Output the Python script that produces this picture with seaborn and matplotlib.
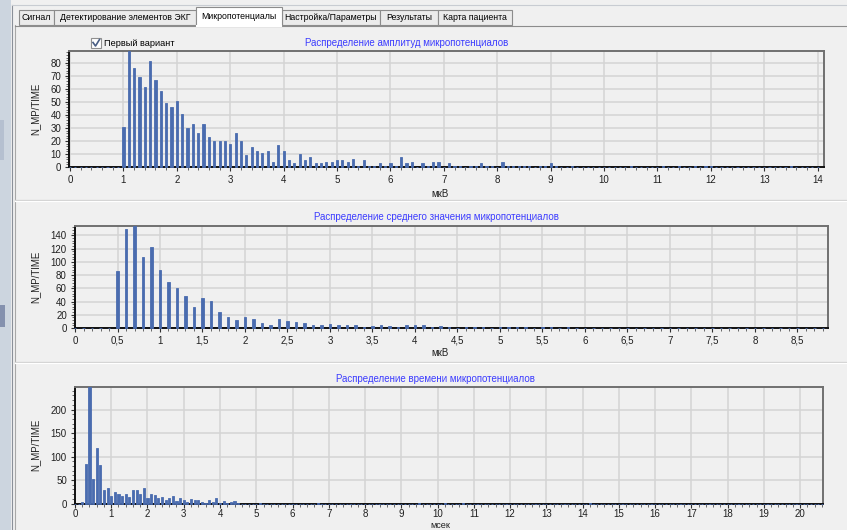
import numpy as np
import pandas as pd
import matplotlib
matplotlib.use("Agg")
import matplotlib.pyplot as plt
from matplotlib.patches import Rectangle
from matplotlib.lines import Line2D
from matplotlib.ticker import MultipleLocator, FuncFormatter
import seaborn as sns

# ---------------- data ----------------
tab_labels = ["Сигнал", "Детектирование элементов ЭКГ", "Микропотенциалы",
              "Настройка/Параметры", "Результаты", "Карта пациента"]
checkbox_label = "Первый вариант"

titles = ["Распределение амплитуд микропотенциалов",
          "Распределение среднего значения микропотенциалов",
          "Распределение времени микропотенциалов"]
x_labels = ["мкВ", "мкВ", "мсек"]
y_label = "N_MP/TIME"

# amplitude distribution, bins 0.0 .. 14.0 step 0.1 (мкВ)
amp_bins = np.round(np.arange(0, 141) * 0.1, 1)
amp_counts = [
    0, 0, 0, 0, 0, 0, 0, 0, 0, 0,
    31, 89, 76, 69, 61, 81, 67, 58, 49, 46,
    51, 41, 30, 33, 26, 33, 23, 20, 20, 20,
    18, 26, 20, 9, 15, 12, 11, 12, 4, 17,
    12, 5, 3, 10, 5, 8, 3, 3, 4, 4,
    5, 5, 4, 6, 1, 5, 1, 1, 3, 1,
    3, 1, 8, 3, 4, 0, 3, 1, 4, 4,
    0, 3, 1, 1, 0, 1, 1, 3, 1, 1,
    0, 4, 1, 1, 1, 1, 1, 0, 1, 1,
    3, 1, 0, 0, 1, 0, 0, 0, 0, 0,
    0, 0, 0, 0, 0, 1, 0, 0, 0, 0,
    0, 1, 0, 0, 1, 0, 0, 1, 0, 1,
    1, 0, 0, 0, 0, 0, 0, 0, 0, 0,
    0, 0, 0, 0, 0, 1, 0, 0, 0, 0,
    0,
]

# mean value distribution, bins 0.0 .. 8.8 step 0.1 (мкВ)
mean_bins = np.round(np.arange(0, 89) * 0.1, 1)
mean_counts = [
    0, 0, 0, 0, 0, 86, 149, 155, 108, 122,
    88, 69, 61, 48, 32, 46, 41, 24, 16, 12,
    16, 14, 7, 5, 14, 11, 9, 8, 5, 5,
    6, 4, 4, 5, 2, 3, 5, 3, 1, 4,
    4, 4, 1, 3, 1, 0, 1, 1, 1, 0,
    1, 1, 1, 1, 0, 1, 1, 0, 1, 0,
    0, 0, 0, 0, 0, 0, 0, 0, 0, 0,
    0, 0, 0, 0, 0, 0, 0, 0, 0, 0,
    0, 0, 0, 0, 0, 0, 0, 0, 0,
]

# duration distribution, bins 0.0 .. 20.6 step 0.1 (мсек)
time_bins = np.round(np.arange(0, 207) * 0.1, 1)
time_counts = [
    0, 0, 3, 84, 249, 52, 119, 81, 28, 34,
    16, 25, 20, 16, 20, 14, 29, 29, 20, 32,
    12, 20, 18, 11, 14, 7, 11, 16, 5, 11,
    7, 3, 9, 7, 7, 3, 2, 7, 3, 11,
    1, 6, 1, 3, 6, 1, 0, 0, 0, 0,
    0, 2, 0, 0, 0, 0, 0, 0, 0, 0,
    0, 0, 0, 0, 0, 0, 0, 2, 0, 0,
    0, 0, 0, 0, 0, 0, 0, 0, 0, 0,
    0, 0, 0, 0, 0, 0, 0, 0, 0, 0,
    0, 0, 0, 0, 0, 2, 0, 0, 0, 0,
    0, 0, 1, 0, 0, 0, 0, 2, 0, 0,
    0, 0, 0, 0, 0, 0, 0, 0, 0, 0,
    0, 0, 0, 0, 0, 0, 0, 0, 0, 0,
    0, 0, 0, 0, 0, 0, 0, 0, 0, 0,
    0, 0, 1, 0, 0, 0, 0, 0, 0, 0,
    0, 0, 0, 0, 0, 0, 0, 0, 0, 0,
    0, 0, 0, 0, 0, 0, 0, 0, 0, 0,
    0, 0, 0, 0, 0, 0, 0, 0, 0, 0,
    0, 0, 0, 0, 0, 0, 0, 0, 0, 0,
    0, 0, 0, 0, 0, 0, 0, 0, 0, 0,
    0, 0, 0, 0, 0, 0, 0,
]

# ---------------- style ----------------
BG = "#f0f0f0"
BAR = "#4a6caf"
GRID = "#d4d4d4"
TITLE_C = "#3c3cff"
FS = 7
TAB_FS = 6.3

plt.rcParams["font.family"] = ["Liberation Sans", "DejaVu Sans"]

W, H = 847, 530
fig = plt.figure(figsize=(W / 100, H / 100), dpi=100, facecolor=BG)

# overlay for window chrome (pixel coordinates)
ov = fig.add_axes([0, 0, 1, 1])
ov.set_xlim(0, W)
ov.set_ylim(H, 0)
ov.axis("off")
ov.set_zorder(-1)

ov.add_patch(Rectangle((0, 0), 11, H, color="#ccd5df", lw=0))
ov.add_patch(Rectangle((0, 305), 5, 22, color="#4a5a86", lw=0, alpha=0.55))
ov.add_patch(Rectangle((0, 120), 4, 40, color="#8090b0", lw=0, alpha=0.3))
ov.add_line(Line2D([11.5, 11.5], [5, H], color="#8a9099", lw=0.8))
ov.add_line(Line2D([14.5, 14.5], [25, H], color="#a8a8a8", lw=0.8))
ov.add_line(Line2D([11.5, W], [5, 5], color="#c8ccd2", lw=0.8))

tab_edges = [19, 54, 196, 282, 380, 438, 512]
sel = 2
for i, lab in enumerate(tab_labels):
    x0, x1 = tab_edges[i], tab_edges[i + 1]
    if i == sel:
        ov.add_patch(Rectangle((x0, 7), x1 - x0, 19, facecolor="white",
                               edgecolor="#8c8c8c", lw=0.8, zorder=3))
        ov.add_line(Line2D([x0 + 0.6, x1 - 0.6], [25.5, 25.5], color="white", lw=1.5, zorder=4))
        ov.text((x0 + x1) / 2, 16.5, lab, ha="center", va="center", fontsize=TAB_FS, zorder=5)
    else:
        ov.add_patch(Rectangle((x0, 10), x1 - x0, 15, facecolor="#ebebeb",
                               edgecolor="#8c8c8c", lw=0.8, zorder=2))
        ov.text((x0 + x1) / 2, 17.5, lab, ha="center", va="center", fontsize=TAB_FS, zorder=5)
ov.add_line(Line2D([14.5, W], [25.5, 25.5], color="#8c8c8c", lw=0.8, zorder=2.5))

for yy in (200, 362):
    ov.add_line(Line2D([14.5, W], [yy, yy], color="#d0d0d0", lw=0.9))
    ov.add_line(Line2D([14.5, W], [yy + 1, yy + 1], color="#ffffff", lw=0.9))

# checkbox
ov.add_patch(Rectangle((91, 38), 10, 10, facecolor="white", edgecolor="#8f8f8f", lw=0.8))
ov.add_line(Line2D([93, 95.5, 99.5], [42.5, 46, 39.5], color="#4a5f85", lw=1.2))
ov.text(104, 43.5, checkbox_label, ha="left", va="center", fontsize=TAB_FS + 0.3)

# chart titles and labels
title_pos = [(407, 43), (436, 216.5), (435, 379)]
xlab_pos = [(440, 194), (440, 353), (440, 525)]
xlab_fs = [FS, FS, 6.6]
ylab_pos = [(35, 109), (35, 277), (35, 445)]
for t, (x, y) in zip(titles, title_pos):
    ov.text(x, y, t, ha="center", va="center", fontsize=FS, color=TITLE_C)
for t, (x, y), fs in zip(x_labels, xlab_pos, xlab_fs):
    ov.text(x, y, t, ha="center", va="center", fontsize=fs, color="#202020")
for (x, y) in ylab_pos:
    ov.text(x, y, y_label, ha="center", va="center", fontsize=FS, rotation=90, color="#202020")


def px_axes(left, top, right, bottom):
    return fig.add_axes([left / W, 1 - bottom / H, (right - left) / W, (bottom - top) / H])


def comma_fmt(v, pos):
    s = ("%g" % round(v, 2))
    return s.replace(".", ",")


specs = [
    dict(box=(69, 51, 824, 167), bins=amp_bins, counts=amp_counts, width=0.4,
         xlim=(-0.02, 14.12), xmaj=1, xmin=0.2, ymaj=10, ymin=2, comma=False, pad=2.5),
    dict(box=(74.5, 225.5, 828, 328), bins=mean_bins, counts=mean_counts, width=0.26,
         xlim=(-0.006, 8.86), xmaj=0.5, xmin=0.1, ymaj=20, ymin=4, comma=True, pad=2.5),
    dict(box=(74.5, 386.5, 823, 503.5), bins=time_bins, counts=time_counts, width=0.58,
         xlim=(-0.013, 20.63), xmaj=1, xmin=0.2, ymaj=50, ymin=10, comma=False, pad=1.2),
]

for sp in specs:
    ax = px_axes(*sp["box"])
    ax.set_facecolor(BG)
    df = pd.DataFrame({"bin": sp["bins"], "count": sp["counts"]})
    sns.barplot(data=df, x="bin", y="count", native_scale=True, width=sp["width"],
                color=BAR, saturation=1, errorbar=None, linewidth=0.6,
                edgecolor=BAR, ax=ax, zorder=3, clip_on=False)
    ax.set_xlim(*sp["xlim"])
    ax.set_ylim(0, max(sp["counts"]))
    ax.xaxis.set_major_locator(MultipleLocator(sp["xmaj"]))
    ax.xaxis.set_minor_locator(MultipleLocator(sp["xmin"]))
    ax.yaxis.set_major_locator(MultipleLocator(sp["ymaj"]))
    ax.yaxis.set_minor_locator(MultipleLocator(sp["ymin"]))
    if sp["comma"]:
        ax.xaxis.set_major_formatter(FuncFormatter(comma_fmt))
    else:
        ax.xaxis.set_major_formatter(FuncFormatter(lambda v, p: "%d" % round(v)))
    ax.yaxis.set_major_formatter(FuncFormatter(lambda v, p: "%d" % round(v)))
    ax.set_xlabel("")
    ax.set_ylabel("")
    ax.grid(True, which="major", color=GRID, linewidth=1.1)
    ax.grid(False, which="minor")
    ax.set_axisbelow(True)
    ax.tick_params(axis="y", which="major", length=3, width=0.8, color="#303030",
                   labelsize=FS, pad=2.5, labelcolor="#202020")
    ax.tick_params(axis="x", which="major", length=3, width=0.8, color="#303030",
                   labelsize=FS, pad=sp["pad"], labelcolor="#202020")
    ax.tick_params(axis="both", which="minor", length=2, width=0.6, color="#505050")
    for s in ("left", "bottom"):
        ax.spines[s].set_color("#101010")
        ax.spines[s].set_linewidth(1.4)
    for s in ("top", "right"):
        ax.spines[s].set_color("#707070")
        ax.spines[s].set_linewidth(1.4)

fig.savefig("out.png", dpi=100, facecolor=BG)
